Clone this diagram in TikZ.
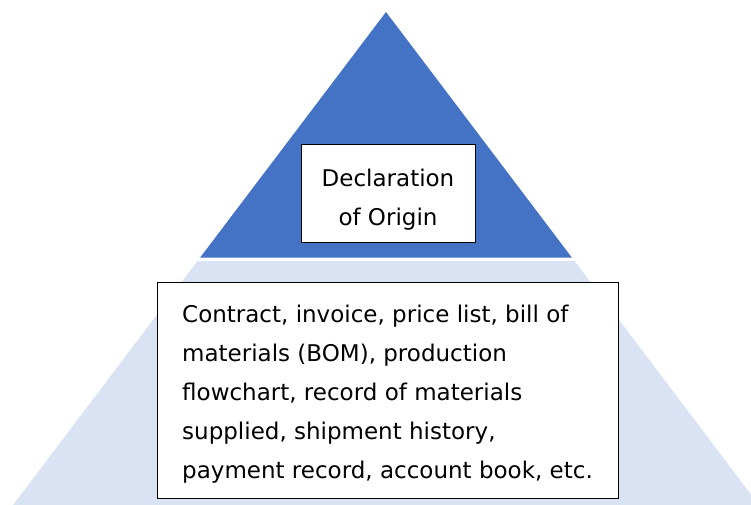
\documentclass[tikz,border=0pt]{standalone}
\usepackage{fontspec}
\setmainfont{DejaVu Sans}
\definecolor{topblue}{HTML}{4472C4}
\definecolor{baseblue}{HTML}{DAE3F3}
\tikzset{textbox/.style={draw=black, fill=white, line width=1pt, inner sep=0pt, font=\fontsize{23}{39}\selectfont}}
% extra height over the first line, so the text sits a little lower in its box
\newcommand{\lowdown}[1]{\rule{0pt}{#1}}

\begin{document}
\begin{tikzpicture}[x=1pt,y=1pt]
%\draw [help lines] (0,0) grid (751,504);
\useasboundingbox (0,0) rectangle (751,504);
\clip (0,0) rectangle (751,504);
\fill [topblue] (386,492)--(571.8,246.5)--(200.2,246.5)--cycle;
\fill [baseblue] (197.5,243)--(574.5,243)--(762,-5)--(10,-5)--cycle;
\node [textbox, minimum width=174pt, minimum height=97pt, align=center] (origin) at (388,310.5) {\lowdown{29.5pt}Declaration\\of Origin};
\node [textbox, minimum width=461pt, minimum height=216pt, align=left] (records) at (387.5,114)
  {\lowdown{25.5pt}Contract, invoice, price list, bill of\\materials (BOM), production\\flowchart, record of materials\\supplied, shipment history,\\payment record, account book, etc.};
\end{tikzpicture}
\end{document}
